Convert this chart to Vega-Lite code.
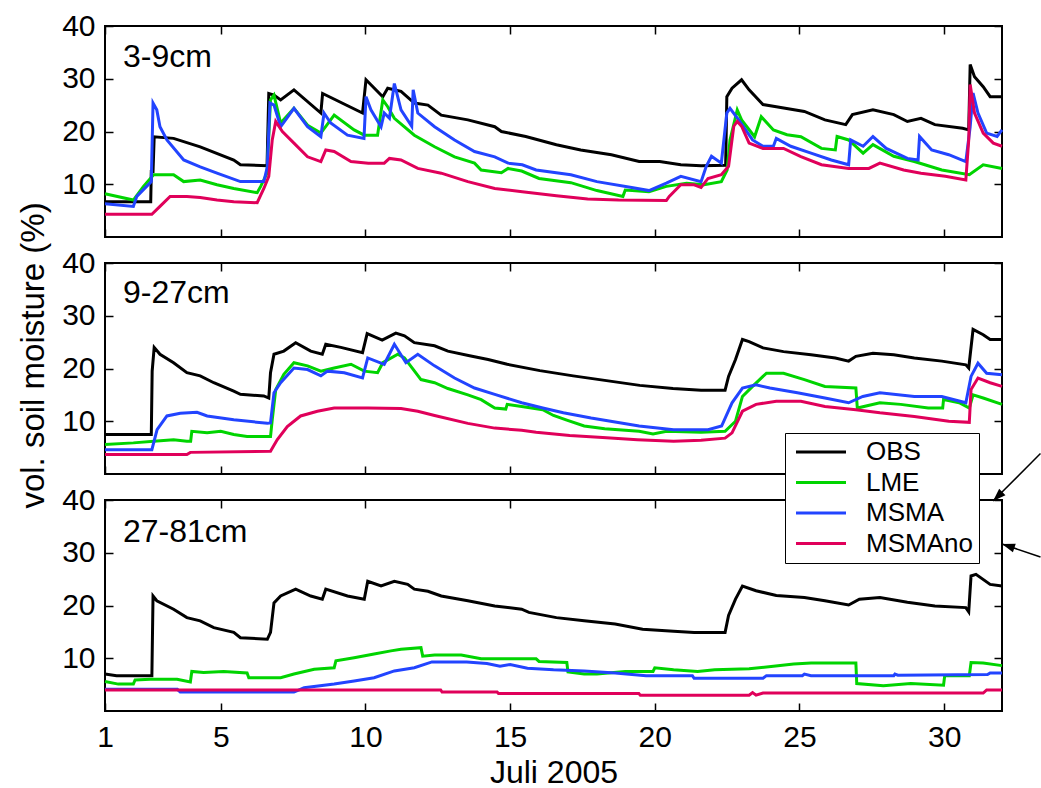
{
"$schema":"https://vega.github.io/schema/vega-lite/v6.json",
"padding":{"left":15,"top":10,"right":0,"bottom":0},
"background":"white",
"bounds":"flush",
"spacing":26,
"config":{
 "view":{"stroke":"black","strokeWidth":2},
 "font":"Liberation Sans",
 "axis":{"domain":false,"grid":false,"tickColor":"black","tickWidth":1.5,"tickSize":-8,"labelColor":"black","labelFontSize":30,"labelFont":"Liberation Sans","titleColor":"black","titleFontWeight":"normal","titleFontSize":33,"titleFont":"Liberation Sans","labelFlush":false,"labelOverlap":false}
},
"datasets":{
"p1":[
{"s":"OBS","d":1,"v":6.7},{"s":"OBS","d":2.58,"v":6.7},{"s":"OBS","d":2.6,"v":12.4},{"s":"OBS","d":2.66,"v":12.4},{"s":"OBS","d":2.7,"v":19.0},{"s":"OBS","d":3.37,"v":18.7},{"s":"OBS","d":4.29,"v":17.1},{"s":"OBS","d":5.45,"v":14.6},{"s":"OBS","d":5.68,"v":13.7},{"s":"OBS","d":6.6,"v":13.5},{"s":"OBS","d":6.66,"v":27.2},{"s":"OBS","d":6.84,"v":26.9},{"s":"OBS","d":7.07,"v":26.0},{"s":"OBS","d":7.53,"v":27.9},{"s":"OBS","d":8.46,"v":23.5},{"s":"OBS","d":8.52,"v":27.2},{"s":"OBS","d":9.9,"v":23.5},{"s":"OBS","d":10.02,"v":29.8},{"s":"OBS","d":10.6,"v":26.6},{"s":"OBS","d":10.77,"v":28.2},{"s":"OBS","d":11.23,"v":27.6},{"s":"OBS","d":11.69,"v":25.4},{"s":"OBS","d":12.16,"v":25.0},{"s":"OBS","d":12.62,"v":23.1},{"s":"OBS","d":13.54,"v":22.2},{"s":"OBS","d":14.47,"v":20.9},{"s":"OBS","d":14.7,"v":20.0},{"s":"OBS","d":15.54,"v":19.05},{"s":"OBS","d":16.6,"v":17.5},{"s":"OBS","d":17.44,"v":16.5},{"s":"OBS","d":18.5,"v":15.6},{"s":"OBS","d":19.46,"v":14.3},{"s":"OBS","d":20.17,"v":14.3},{"s":"OBS","d":20.9,"v":13.7},{"s":"OBS","d":21.6,"v":13.5},{"s":"OBS","d":22.45,"v":13.6},{"s":"OBS","d":22.49,"v":26.6},{"s":"OBS","d":22.67,"v":28.2},{"s":"OBS","d":23.0,"v":29.8},{"s":"OBS","d":23.26,"v":27.9},{"s":"OBS","d":23.74,"v":25.1},{"s":"OBS","d":24.2,"v":24.7},{"s":"OBS","d":25.17,"v":23.8},{"s":"OBS","d":25.88,"v":22.2},{"s":"OBS","d":26.6,"v":21.3},{"s":"OBS","d":26.83,"v":23.2},{"s":"OBS","d":27.54,"v":24.1},{"s":"OBS","d":28.26,"v":23.2},{"s":"OBS","d":28.73,"v":21.9},{"s":"OBS","d":29.2,"v":22.5},{"s":"OBS","d":29.68,"v":21.3},{"s":"OBS","d":30.64,"v":20.6},{"s":"OBS","d":30.85,"v":20.3},{"s":"OBS","d":30.9,"v":32.7},{"s":"OBS","d":31.05,"v":30.4},{"s":"OBS","d":31.35,"v":28.5},{"s":"OBS","d":31.59,"v":26.6},{"s":"OBS","d":32,"v":26.6},
{"s":"LME","d":1,"v":8.2},{"s":"LME","d":1.98,"v":7.0},{"s":"LME","d":2.33,"v":9.6},{"s":"LME","d":2.68,"v":11.8},{"s":"LME","d":3.37,"v":11.8},{"s":"LME","d":3.72,"v":10.5},{"s":"LME","d":4.29,"v":10.8},{"s":"LME","d":4.87,"v":9.9},{"s":"LME","d":5.45,"v":9.2},{"s":"LME","d":6.26,"v":8.4},{"s":"LME","d":6.38,"v":9.6},{"s":"LME","d":6.6,"v":12.1},{"s":"LME","d":6.72,"v":26.0},{"s":"LME","d":6.84,"v":26.9},{"s":"LME","d":7.07,"v":21.6},{"s":"LME","d":7.53,"v":24.4},{"s":"LME","d":8.0,"v":21.2},{"s":"LME","d":8.46,"v":19.7},{"s":"LME","d":8.92,"v":23.1},{"s":"LME","d":9.61,"v":20.3},{"s":"LME","d":9.96,"v":19.3},{"s":"LME","d":10.42,"v":19.3},{"s":"LME","d":10.6,"v":26.0},{"s":"LME","d":10.77,"v":24.7},{"s":"LME","d":11.0,"v":22.5},{"s":"LME","d":11.69,"v":19.3},{"s":"LME","d":12.39,"v":17.1},{"s":"LME","d":13.08,"v":15.2},{"s":"LME","d":13.77,"v":14.0},{"s":"LME","d":14.0,"v":12.7},{"s":"LME","d":14.7,"v":12.2},{"s":"LME","d":14.93,"v":13.0},{"s":"LME","d":15.4,"v":12.5},{"s":"LME","d":16.0,"v":11.1},{"s":"LME","d":17.1,"v":10.3},{"s":"LME","d":18.0,"v":8.8},{"s":"LME","d":18.9,"v":7.7},{"s":"LME","d":18.98,"v":8.9},{"s":"LME","d":19.8,"v":8.6},{"s":"LME","d":20.4,"v":9.6},{"s":"LME","d":21.1,"v":10.2},{"s":"LME","d":21.7,"v":9.9},{"s":"LME","d":22.3,"v":10.5},{"s":"LME","d":22.5,"v":12.7},{"s":"LME","d":22.6,"v":18.4},{"s":"LME","d":22.85,"v":24.1},{"s":"LME","d":23.0,"v":22.2},{"s":"LME","d":23.45,"v":19.0},{"s":"LME","d":23.68,"v":22.8},{"s":"LME","d":24.1,"v":20.3},{"s":"LME","d":24.57,"v":19.4},{"s":"LME","d":25.05,"v":19.0},{"s":"LME","d":25.76,"v":16.8},{"s":"LME","d":26.24,"v":16.5},{"s":"LME","d":26.3,"v":19.05},{"s":"LME","d":26.7,"v":18.4},{"s":"LME","d":27.2,"v":15.9},{"s":"LME","d":27.54,"v":17.5},{"s":"LME","d":28.26,"v":15.3},{"s":"LME","d":28.97,"v":14.3},{"s":"LME","d":29.92,"v":12.7},{"s":"LME","d":30.87,"v":11.8},{"s":"LME","d":31.35,"v":13.7},{"s":"LME","d":32,"v":13.0},
{"s":"MSMA","d":1,"v":6.3},{"s":"MSMA","d":1.98,"v":5.8},{"s":"MSMA","d":2.1,"v":7.7},{"s":"MSMA","d":2.6,"v":10.5},{"s":"MSMA","d":2.66,"v":25.4},{"s":"MSMA","d":2.79,"v":24.1},{"s":"MSMA","d":2.9,"v":20.9},{"s":"MSMA","d":3.14,"v":18.4},{"s":"MSMA","d":3.72,"v":14.6},{"s":"MSMA","d":4.29,"v":13.3},{"s":"MSMA","d":4.87,"v":12.1},{"s":"MSMA","d":5.68,"v":10.5},{"s":"MSMA","d":6.49,"v":10.5},{"s":"MSMA","d":6.61,"v":13.3},{"s":"MSMA","d":6.7,"v":25.4},{"s":"MSMA","d":6.84,"v":25.0},{"s":"MSMA","d":7.07,"v":20.9},{"s":"MSMA","d":7.53,"v":24.4},{"s":"MSMA","d":8.0,"v":20.9},{"s":"MSMA","d":8.46,"v":19.0},{"s":"MSMA","d":8.57,"v":23.5},{"s":"MSMA","d":8.8,"v":21.6},{"s":"MSMA","d":9.38,"v":19.3},{"s":"MSMA","d":9.95,"v":18.7},{"s":"MSMA","d":10.02,"v":26.6},{"s":"MSMA","d":10.19,"v":24.1},{"s":"MSMA","d":10.54,"v":20.9},{"s":"MSMA","d":10.65,"v":23.5},{"s":"MSMA","d":10.83,"v":22.5},{"s":"MSMA","d":11.0,"v":29.1},{"s":"MSMA","d":11.23,"v":24.1},{"s":"MSMA","d":11.6,"v":21.0},{"s":"MSMA","d":11.65,"v":27.9},{"s":"MSMA","d":11.81,"v":23.5},{"s":"MSMA","d":12.39,"v":20.9},{"s":"MSMA","d":13.08,"v":18.4},{"s":"MSMA","d":13.77,"v":16.2},{"s":"MSMA","d":14.47,"v":15.2},{"s":"MSMA","d":14.93,"v":14.0},{"s":"MSMA","d":15.42,"v":13.7},{"s":"MSMA","d":15.9,"v":12.7},{"s":"MSMA","d":17.1,"v":11.8},{"s":"MSMA","d":18.0,"v":10.5},{"s":"MSMA","d":19.2,"v":9.4},{"s":"MSMA","d":19.8,"v":8.8},{"s":"MSMA","d":20.4,"v":10.2},{"s":"MSMA","d":20.9,"v":11.5},{"s":"MSMA","d":21.6,"v":10.5},{"s":"MSMA","d":21.78,"v":13.4},{"s":"MSMA","d":21.96,"v":15.3},{"s":"MSMA","d":22.3,"v":14.0},{"s":"MSMA","d":22.49,"v":23.5},{"s":"MSMA","d":22.6,"v":24.4},{"s":"MSMA","d":22.9,"v":22.2},{"s":"MSMA","d":23.38,"v":18.4},{"s":"MSMA","d":23.74,"v":17.2},{"s":"MSMA","d":24.1,"v":17.2},{"s":"MSMA","d":24.2,"v":18.7},{"s":"MSMA","d":24.7,"v":17.2},{"s":"MSMA","d":25.4,"v":15.9},{"s":"MSMA","d":26.1,"v":14.6},{"s":"MSMA","d":26.7,"v":13.7},{"s":"MSMA","d":26.77,"v":18.4},{"s":"MSMA","d":27.2,"v":17.2},{"s":"MSMA","d":27.54,"v":19.05},{"s":"MSMA","d":28.0,"v":16.8},{"s":"MSMA","d":28.73,"v":14.9},{"s":"MSMA","d":29.1,"v":14.6},{"s":"MSMA","d":29.15,"v":19.05},{"s":"MSMA","d":29.57,"v":16.5},{"s":"MSMA","d":30.16,"v":15.6},{"s":"MSMA","d":30.75,"v":14.3},{"s":"MSMA","d":30.9,"v":20.9},{"s":"MSMA","d":31.0,"v":27.3},{"s":"MSMA","d":31.17,"v":23.5},{"s":"MSMA","d":31.47,"v":19.7},{"s":"MSMA","d":31.83,"v":19.05},{"s":"MSMA","d":32,"v":20.3},
{"s":"MSMAno","d":1,"v":4.3},{"s":"MSMAno","d":2.62,"v":4.3},{"s":"MSMAno","d":2.9,"v":5.8},{"s":"MSMAno","d":3.25,"v":7.7},{"s":"MSMAno","d":3.83,"v":7.7},{"s":"MSMAno","d":4.29,"v":7.5},{"s":"MSMAno","d":4.87,"v":7.0},{"s":"MSMAno","d":5.45,"v":6.7},{"s":"MSMAno","d":6.26,"v":6.5},{"s":"MSMAno","d":6.49,"v":9.2},{"s":"MSMAno","d":6.66,"v":11.5},{"s":"MSMAno","d":6.78,"v":18.4},{"s":"MSMAno","d":6.9,"v":21.9},{"s":"MSMAno","d":7.13,"v":20.0},{"s":"MSMAno","d":7.53,"v":17.8},{"s":"MSMAno","d":8.0,"v":15.2},{"s":"MSMAno","d":8.46,"v":14.3},{"s":"MSMAno","d":8.63,"v":16.5},{"s":"MSMAno","d":8.92,"v":16.2},{"s":"MSMAno","d":9.5,"v":14.3},{"s":"MSMAno","d":10.1,"v":14.0},{"s":"MSMAno","d":10.65,"v":14.0},{"s":"MSMAno","d":10.83,"v":14.9},{"s":"MSMAno","d":11.23,"v":14.6},{"s":"MSMAno","d":11.81,"v":13.0},{"s":"MSMAno","d":12.62,"v":12.1},{"s":"MSMAno","d":13.54,"v":10.5},{"s":"MSMAno","d":14.47,"v":9.2},{"s":"MSMAno","d":15.42,"v":8.6},{"s":"MSMAno","d":16.6,"v":7.8},{"s":"MSMAno","d":17.68,"v":7.2},{"s":"MSMAno","d":18.75,"v":7.0},{"s":"MSMAno","d":20.4,"v":6.9},{"s":"MSMAno","d":20.5,"v":7.7},{"s":"MSMAno","d":20.9,"v":9.9},{"s":"MSMAno","d":21.36,"v":9.9},{"s":"MSMAno","d":21.6,"v":9.4},{"s":"MSMAno","d":21.84,"v":11.1},{"s":"MSMAno","d":22.3,"v":11.8},{"s":"MSMAno","d":22.55,"v":13.4},{"s":"MSMAno","d":22.73,"v":21.0},{"s":"MSMAno","d":22.85,"v":21.9},{"s":"MSMAno","d":23.0,"v":21.0},{"s":"MSMAno","d":23.26,"v":17.8},{"s":"MSMAno","d":23.74,"v":16.8},{"s":"MSMAno","d":24.45,"v":16.8},{"s":"MSMAno","d":25.05,"v":15.25},{"s":"MSMAno","d":25.76,"v":13.7},{"s":"MSMAno","d":26.7,"v":13.0},{"s":"MSMAno","d":27.4,"v":13.0},{"s":"MSMAno","d":27.78,"v":14.0},{"s":"MSMAno","d":28.6,"v":12.7},{"s":"MSMAno","d":29.2,"v":12.1},{"s":"MSMAno","d":30.04,"v":11.5},{"s":"MSMAno","d":30.75,"v":10.8},{"s":"MSMAno","d":30.85,"v":18.4},{"s":"MSMAno","d":30.9,"v":28.9},{"s":"MSMAno","d":31.05,"v":23.5},{"s":"MSMAno","d":31.35,"v":19.7},{"s":"MSMAno","d":31.7,"v":17.8},{"s":"MSMAno","d":32,"v":17.2}
],
"p2":[
{"s":"OBS","d":1,"v":7.5},{"s":"OBS","d":2.6,"v":7.5},{"s":"OBS","d":2.63,"v":19.5},{"s":"OBS","d":2.7,"v":24.0},{"s":"OBS","d":2.9,"v":22.7},{"s":"OBS","d":3.37,"v":21.1},{"s":"OBS","d":3.83,"v":19.2},{"s":"OBS","d":4.29,"v":18.6},{"s":"OBS","d":4.76,"v":17.3},{"s":"OBS","d":5.45,"v":15.7},{"s":"OBS","d":5.68,"v":15.1},{"s":"OBS","d":6.49,"v":14.8},{"s":"OBS","d":6.66,"v":14.4},{"s":"OBS","d":6.72,"v":19.2},{"s":"OBS","d":6.84,"v":22.7},{"s":"OBS","d":7.18,"v":23.3},{"s":"OBS","d":7.59,"v":24.9},{"s":"OBS","d":8.11,"v":23.3},{"s":"OBS","d":8.51,"v":22.7},{"s":"OBS","d":8.63,"v":24.6},{"s":"OBS","d":9.15,"v":24.0},{"s":"OBS","d":9.9,"v":23.0},{"s":"OBS","d":10.06,"v":26.6},{"s":"OBS","d":10.58,"v":25.4},{"s":"OBS","d":11.05,"v":26.7},{"s":"OBS","d":11.35,"v":26.2},{"s":"OBS","d":11.69,"v":24.9},{"s":"OBS","d":12.39,"v":24.3},{"s":"OBS","d":12.85,"v":23.3},{"s":"OBS","d":13.6,"v":22.4},{"s":"OBS","d":14.24,"v":21.7},{"s":"OBS","d":14.9,"v":20.8},{"s":"OBS","d":16.03,"v":19.6},{"s":"OBS","d":17.18,"v":18.6},{"s":"OBS","d":18.33,"v":17.7},{"s":"OBS","d":19.48,"v":16.8},{"s":"OBS","d":20.63,"v":16.2},{"s":"OBS","d":21.6,"v":15.9},{"s":"OBS","d":22.43,"v":15.9},{"s":"OBS","d":22.55,"v":18.5},{"s":"OBS","d":22.79,"v":21.7},{"s":"OBS","d":23.03,"v":25.5},{"s":"OBS","d":23.26,"v":25.1},{"s":"OBS","d":23.74,"v":23.9},{"s":"OBS","d":24.45,"v":23.2},{"s":"OBS","d":25.4,"v":22.6},{"s":"OBS","d":26.24,"v":22.0},{"s":"OBS","d":26.7,"v":21.4},{"s":"OBS","d":26.95,"v":22.3},{"s":"OBS","d":27.54,"v":22.9},{"s":"OBS","d":28.26,"v":22.6},{"s":"OBS","d":28.97,"v":22.0},{"s":"OBS","d":29.92,"v":21.4},{"s":"OBS","d":30.75,"v":20.7},{"s":"OBS","d":30.85,"v":20.1},{"s":"OBS","d":31.0,"v":27.4},{"s":"OBS","d":31.35,"v":26.4},{"s":"OBS","d":31.59,"v":25.5},{"s":"OBS","d":32,"v":25.5},
{"s":"LME","d":1,"v":5.6},{"s":"LME","d":1.98,"v":5.9},{"s":"LME","d":2.68,"v":6.2},{"s":"LME","d":3.37,"v":6.5},{"s":"LME","d":3.83,"v":6.2},{"s":"LME","d":3.96,"v":6.2},{"s":"LME","d":4.0,"v":8.1},{"s":"LME","d":4.53,"v":7.8},{"s":"LME","d":5.0,"v":8.1},{"s":"LME","d":5.45,"v":7.5},{"s":"LME","d":5.91,"v":7.1},{"s":"LME","d":6.72,"v":7.1},{"s":"LME","d":6.78,"v":10.3},{"s":"LME","d":6.9,"v":16.0},{"s":"LME","d":7.18,"v":18.9},{"s":"LME","d":7.53,"v":21.1},{"s":"LME","d":8.0,"v":20.5},{"s":"LME","d":8.46,"v":19.5},{"s":"LME","d":8.92,"v":20.1},{"s":"LME","d":9.5,"v":20.8},{"s":"LME","d":9.96,"v":19.5},{"s":"LME","d":10.42,"v":19.2},{"s":"LME","d":10.6,"v":21.1},{"s":"LME","d":11.12,"v":22.7},{"s":"LME","d":11.35,"v":22.0},{"s":"LME","d":11.92,"v":17.9},{"s":"LME","d":12.39,"v":17.3},{"s":"LME","d":12.85,"v":16.2},{"s":"LME","d":13.54,"v":15.0},{"s":"LME","d":14.0,"v":14.1},{"s":"LME","d":14.47,"v":12.5},{"s":"LME","d":14.85,"v":12.3},{"s":"LME","d":14.9,"v":13.2},{"s":"LME","d":15.4,"v":12.8},{"s":"LME","d":16.13,"v":12.2},{"s":"LME","d":16.5,"v":11.1},{"s":"LME","d":16.96,"v":10.2},{"s":"LME","d":17.56,"v":9.1},{"s":"LME","d":18.27,"v":8.6},{"s":"LME","d":19.46,"v":8.1},{"s":"LME","d":19.94,"v":7.6},{"s":"LME","d":20.41,"v":8.1},{"s":"LME","d":21.6,"v":7.9},{"s":"LME","d":22.43,"v":8.1},{"s":"LME","d":22.79,"v":10.0},{"s":"LME","d":23.03,"v":14.7},{"s":"LME","d":23.38,"v":16.6},{"s":"LME","d":23.74,"v":18.5},{"s":"LME","d":23.86,"v":19.1},{"s":"LME","d":24.45,"v":19.1},{"s":"LME","d":25.17,"v":17.9},{"s":"LME","d":25.88,"v":16.6},{"s":"LME","d":26.95,"v":16.3},{"s":"LME","d":27.0,"v":12.5},{"s":"LME","d":27.78,"v":13.5},{"s":"LME","d":28.5,"v":13.2},{"s":"LME","d":29.45,"v":12.5},{"s":"LME","d":29.95,"v":12.5},{"s":"LME","d":29.98,"v":14.1},{"s":"LME","d":30.52,"v":13.5},{"s":"LME","d":30.87,"v":12.5},{"s":"LME","d":31.0,"v":15.0},{"s":"LME","d":31.35,"v":14.4},{"s":"LME","d":32,"v":13.2},
{"s":"MSMA","d":1,"v":4.6},{"s":"MSMA","d":2.62,"v":4.6},{"s":"MSMA","d":2.8,"v":8.4},{"s":"MSMA","d":3.14,"v":11.0},{"s":"MSMA","d":3.6,"v":11.5},{"s":"MSMA","d":4.18,"v":11.7},{"s":"MSMA","d":4.53,"v":11.0},{"s":"MSMA","d":5.45,"v":10.3},{"s":"MSMA","d":6.61,"v":9.6},{"s":"MSMA","d":6.72,"v":9.7},{"s":"MSMA","d":6.84,"v":15.4},{"s":"MSMA","d":7.07,"v":17.3},{"s":"MSMA","d":7.53,"v":20.1},{"s":"MSMA","d":8.0,"v":19.8},{"s":"MSMA","d":8.46,"v":18.6},{"s":"MSMA","d":8.69,"v":19.5},{"s":"MSMA","d":9.27,"v":19.2},{"s":"MSMA","d":9.9,"v":18.2},{"s":"MSMA","d":10.08,"v":22.0},{"s":"MSMA","d":10.65,"v":20.8},{"s":"MSMA","d":11.0,"v":24.6},{"s":"MSMA","d":11.4,"v":21.1},{"s":"MSMA","d":11.81,"v":22.7},{"s":"MSMA","d":12.39,"v":20.5},{"s":"MSMA","d":13.08,"v":18.2},{"s":"MSMA","d":13.77,"v":16.3},{"s":"MSMA","d":14.47,"v":15.1},{"s":"MSMA","d":15.4,"v":13.5},{"s":"MSMA","d":16.13,"v":12.5},{"s":"MSMA","d":16.84,"v":11.6},{"s":"MSMA","d":17.8,"v":10.6},{"s":"MSMA","d":19.46,"v":9.1},{"s":"MSMA","d":20.65,"v":8.4},{"s":"MSMA","d":21.84,"v":8.4},{"s":"MSMA","d":22.31,"v":9.1},{"s":"MSMA","d":22.67,"v":13.5},{"s":"MSMA","d":23.03,"v":16.3},{"s":"MSMA","d":23.5,"v":16.9},{"s":"MSMA","d":23.98,"v":16.3},{"s":"MSMA","d":24.93,"v":15.4},{"s":"MSMA","d":25.88,"v":14.4},{"s":"MSMA","d":26.7,"v":13.5},{"s":"MSMA","d":27.19,"v":14.7},{"s":"MSMA","d":27.78,"v":15.4},{"s":"MSMA","d":28.97,"v":14.7},{"s":"MSMA","d":29.92,"v":14.7},{"s":"MSMA","d":30.75,"v":13.5},{"s":"MSMA","d":30.93,"v":18.5},{"s":"MSMA","d":31.17,"v":21.0},{"s":"MSMA","d":31.47,"v":19.1},{"s":"MSMA","d":32,"v":18.8},
{"s":"MSMAno","d":1,"v":3.7},{"s":"MSMAno","d":3.83,"v":3.7},{"s":"MSMAno","d":3.95,"v":4.1},{"s":"MSMAno","d":6.72,"v":4.3},{"s":"MSMAno","d":6.95,"v":6.5},{"s":"MSMAno","d":7.3,"v":9.0},{"s":"MSMAno","d":7.76,"v":11.0},{"s":"MSMAno","d":8.34,"v":11.9},{"s":"MSMAno","d":8.92,"v":12.5},{"s":"MSMAno","d":10.08,"v":12.5},{"s":"MSMAno","d":11.23,"v":12.4},{"s":"MSMAno","d":11.81,"v":11.9},{"s":"MSMAno","d":12.39,"v":11.1},{"s":"MSMAno","d":13.54,"v":9.6},{"s":"MSMAno","d":14.47,"v":8.7},{"s":"MSMAno","d":15.4,"v":8.3},{"s":"MSMAno","d":15.9,"v":7.9},{"s":"MSMAno","d":17.06,"v":7.3},{"s":"MSMAno","d":18.2,"v":6.9},{"s":"MSMAno","d":19.4,"v":6.5},{"s":"MSMAno","d":20.65,"v":6.2},{"s":"MSMAno","d":21.6,"v":6.4},{"s":"MSMAno","d":22.43,"v":6.8},{"s":"MSMAno","d":22.67,"v":7.8},{"s":"MSMAno","d":23.03,"v":11.9},{"s":"MSMAno","d":23.5,"v":13.2},{"s":"MSMAno","d":24.2,"v":13.8},{"s":"MSMAno","d":25.05,"v":13.8},{"s":"MSMAno","d":25.88,"v":12.8},{"s":"MSMAno","d":26.95,"v":12.2},{"s":"MSMAno","d":27.78,"v":11.6},{"s":"MSMAno","d":28.97,"v":10.9},{"s":"MSMAno","d":30.16,"v":10.0},{"s":"MSMAno","d":30.87,"v":9.8},{"s":"MSMAno","d":30.93,"v":16.0},{"s":"MSMAno","d":31.17,"v":18.2},{"s":"MSMAno","d":31.59,"v":17.3},{"s":"MSMAno","d":32,"v":16.6}
],
"p3":[
{"s":"OBS","d":1,"v":7.0},{"s":"OBS","d":1.4,"v":6.7},{"s":"OBS","d":2.62,"v":6.7},{"s":"OBS","d":2.66,"v":21.8},{"s":"OBS","d":2.79,"v":20.9},{"s":"OBS","d":3.37,"v":19.3},{"s":"OBS","d":3.83,"v":17.7},{"s":"OBS","d":4.29,"v":17.1},{"s":"OBS","d":4.76,"v":15.8},{"s":"OBS","d":5.45,"v":14.9},{"s":"OBS","d":5.68,"v":13.9},{"s":"OBS","d":6.61,"v":13.6},{"s":"OBS","d":6.72,"v":14.9},{"s":"OBS","d":6.84,"v":20.5},{"s":"OBS","d":7.07,"v":21.8},{"s":"OBS","d":7.59,"v":23.1},{"s":"OBS","d":8.11,"v":21.8},{"s":"OBS","d":8.51,"v":21.2},{"s":"OBS","d":8.63,"v":23.1},{"s":"OBS","d":9.38,"v":21.8},{"s":"OBS","d":9.96,"v":21.2},{"s":"OBS","d":10.08,"v":24.6},{"s":"OBS","d":10.54,"v":23.7},{"s":"OBS","d":11.0,"v":24.6},{"s":"OBS","d":11.46,"v":24.0},{"s":"OBS","d":11.69,"v":23.1},{"s":"OBS","d":12.16,"v":22.7},{"s":"OBS","d":12.62,"v":21.8},{"s":"OBS","d":13.54,"v":20.9},{"s":"OBS","d":14.47,"v":19.9},{"s":"OBS","d":15.4,"v":19.3},{"s":"OBS","d":15.65,"v":18.7},{"s":"OBS","d":16.6,"v":17.7},{"s":"OBS","d":17.56,"v":17.1},{"s":"OBS","d":18.63,"v":16.5},{"s":"OBS","d":19.58,"v":15.5},{"s":"OBS","d":20.65,"v":15.1},{"s":"OBS","d":21.36,"v":14.9},{"s":"OBS","d":22.43,"v":14.9},{"s":"OBS","d":22.55,"v":18.1},{"s":"OBS","d":22.79,"v":21.2},{"s":"OBS","d":23.03,"v":23.7},{"s":"OBS","d":23.5,"v":22.8},{"s":"OBS","d":24.2,"v":21.9},{"s":"OBS","d":25.17,"v":21.5},{"s":"OBS","d":25.88,"v":20.9},{"s":"OBS","d":26.7,"v":20.1},{"s":"OBS","d":27.07,"v":21.2},{"s":"OBS","d":27.78,"v":21.5},{"s":"OBS","d":28.73,"v":20.6},{"s":"OBS","d":29.68,"v":19.9},{"s":"OBS","d":30.75,"v":19.6},{"s":"OBS","d":30.85,"v":18.8},{"s":"OBS","d":30.93,"v":25.6},{"s":"OBS","d":31.1,"v":25.9},{"s":"OBS","d":31.59,"v":24.0},{"s":"OBS","d":32,"v":23.7},
{"s":"LME","d":1,"v":5.6},{"s":"LME","d":1.46,"v":5.1},{"s":"LME","d":1.98,"v":5.1},{"s":"LME","d":2.04,"v":5.9},{"s":"LME","d":2.56,"v":6.0},{"s":"LME","d":3.49,"v":6.0},{"s":"LME","d":3.95,"v":5.5},{"s":"LME","d":4.0,"v":7.5},{"s":"LME","d":4.41,"v":7.3},{"s":"LME","d":5.1,"v":7.5},{"s":"LME","d":5.91,"v":7.2},{"s":"LME","d":5.97,"v":6.3},{"s":"LME","d":7.07,"v":6.3},{"s":"LME","d":7.53,"v":7.0},{"s":"LME","d":8.23,"v":7.9},{"s":"LME","d":8.92,"v":8.2},{"s":"LME","d":8.98,"v":9.5},{"s":"LME","d":9.61,"v":10.1},{"s":"LME","d":10.3,"v":10.8},{"s":"LME","d":10.88,"v":11.4},{"s":"LME","d":11.23,"v":11.7},{"s":"LME","d":11.92,"v":12.0},{"s":"LME","d":11.98,"v":10.4},{"s":"LME","d":12.39,"v":10.6},{"s":"LME","d":13.31,"v":10.6},{"s":"LME","d":14.0,"v":9.9},{"s":"LME","d":15.9,"v":9.9},{"s":"LME","d":16.0,"v":9.4},{"s":"LME","d":16.96,"v":9.2},{"s":"LME","d":17.0,"v":7.4},{"s":"LME","d":17.56,"v":7.0},{"s":"LME","d":18.0,"v":7.0},{"s":"LME","d":18.98,"v":7.5},{"s":"LME","d":19.94,"v":7.5},{"s":"LME","d":20.0,"v":8.2},{"s":"LME","d":20.65,"v":7.8},{"s":"LME","d":21.48,"v":7.5},{"s":"LME","d":22.07,"v":7.8},{"s":"LME","d":23.26,"v":8.0},{"s":"LME","d":24.1,"v":8.5},{"s":"LME","d":24.8,"v":8.9},{"s":"LME","d":25.4,"v":9.1},{"s":"LME","d":26.95,"v":9.1},{"s":"LME","d":26.98,"v":5.2},{"s":"LME","d":27.9,"v":4.8},{"s":"LME","d":28.85,"v":5.2},{"s":"LME","d":29.98,"v":4.9},{"s":"LME","d":30.02,"v":6.7},{"s":"LME","d":30.87,"v":6.7},{"s":"LME","d":30.93,"v":9.2},{"s":"LME","d":31.35,"v":9.1},{"s":"LME","d":32,"v":8.6},
{"s":"MSMA","d":1,"v":4.1},{"s":"MSMA","d":3.5,"v":4.1},{"s":"MSMA","d":3.6,"v":3.6},{"s":"MSMA","d":7.53,"v":3.6},{"s":"MSMA","d":7.88,"v":4.4},{"s":"MSMA","d":8.92,"v":5.1},{"s":"MSMA","d":9.61,"v":5.7},{"s":"MSMA","d":10.3,"v":6.3},{"s":"MSMA","d":11.0,"v":7.6},{"s":"MSMA","d":11.69,"v":8.2},{"s":"MSMA","d":12.3,"v":9.3},{"s":"MSMA","d":13.5,"v":9.3},{"s":"MSMA","d":14.2,"v":9.0},{"s":"MSMA","d":14.65,"v":8.5},{"s":"MSMA","d":15.0,"v":8.8},{"s":"MSMA","d":15.6,"v":8.1},{"s":"MSMA","d":16.5,"v":7.8},{"s":"MSMA","d":17.56,"v":7.6},{"s":"MSMA","d":18.63,"v":7.2},{"s":"MSMA","d":19.7,"v":6.7},{"s":"MSMA","d":21.3,"v":6.7},{"s":"MSMA","d":21.36,"v":6.2},{"s":"MSMA","d":23.74,"v":6.2},{"s":"MSMA","d":23.86,"v":6.7},{"s":"MSMA","d":25.1,"v":6.7},{"s":"MSMA","d":25.17,"v":7.0},{"s":"MSMA","d":25.4,"v":6.7},{"s":"MSMA","d":28.26,"v":6.7},{"s":"MSMA","d":28.3,"v":7.0},{"s":"MSMA","d":28.4,"v":6.8},{"s":"MSMA","d":31.5,"v":6.9},{"s":"MSMA","d":31.59,"v":7.2},{"s":"MSMA","d":32,"v":7.2},
{"s":"MSMAno","d":1,"v":4.0},{"s":"MSMAno","d":12.6,"v":4.0},{"s":"MSMAno","d":12.65,"v":3.6},{"s":"MSMAno","d":14.55,"v":3.6},{"s":"MSMAno","d":14.6,"v":3.3},{"s":"MSMAno","d":19.45,"v":3.3},{"s":"MSMAno","d":19.5,"v":3.0},{"s":"MSMAno","d":23.26,"v":3.0},{"s":"MSMAno","d":23.38,"v":3.5},{"s":"MSMAno","d":23.5,"v":3.0},{"s":"MSMAno","d":23.74,"v":3.4},{"s":"MSMAno","d":31.35,"v":3.4},{"s":"MSMAno","d":31.47,"v":4.0},{"s":"MSMAno","d":32,"v":4.0}
]
},
"vconcat":[
{
 "width":897,"height":211,
 "layer":[
  {"data":{"name":"p1"},"mark":{"type":"line","strokeWidth":3},
   "encoding":{
    "x":{"field":"d","type":"quantitative","scale":{"domain":[1,32],"nice":false,"zero":false},"axis":{"orient":"bottom","values":[1,5,10,15,20,25,30],"labels":false,"title":null}},
    "y":{"field":"v","type":"quantitative","scale":{"domain":[0,40],"nice":false},"axis":{"orient":"left","values":[10,20,30,40],"labelPadding":18,"labelBaseline":"middle","title":null}},
    "color":{"field":"s","type":"nominal","scale":{"domain":["OBS","LME","MSMA","MSMAno"],"range":["#000000","#00d400","#2244ff","#e0005a"]},
     "legend":{"orient":"none","legendX":680,"legendY":407,"title":null,"symbolType":"M-5,0L5,0","symbolSize":100,"symbolStrokeWidth":3,"labelFontSize":26,"labelFont":"Liberation Sans","labelColor":"black","strokeColor":"black","fillColor":"white","padding":6,"rowPadding":4.5,"symbolOffset":17,"labelOffset":32,"labelLimit":300,"labelExpr":"datum.label + '\u00a0\u00a0\u00a0\u00a0\u00a0\u00a0\u2009'"}}
   }},
  {"data":{"name":"p1"},"mark":{"type":"point","opacity":0},
   "encoding":{
    "x":{"field":"d","type":"quantitative","scale":{"domain":[1,32],"nice":false,"zero":false},"axis":{"orient":"top","values":[1,5,10,15,20,25,30],"labels":false,"title":null}},
    "y":{"field":"v","type":"quantitative","scale":{"domain":[0,40],"nice":false},"axis":{"orient":"right","values":[10,20,30,40],"labels":false,"title":null}}
   }},
  {"data":{"values":[{"lab":"3-9cm","x":1.62,"y":32.3}]},"mark":{"type":"text","align":"left","baseline":"alphabetic","fontSize":32,"font":"Liberation Sans","color":"black"},
   "encoding":{"x":{"field":"x","type":"quantitative","axis":null},"y":{"field":"y","type":"quantitative","axis":null},"text":{"field":"lab"}}}
 ],
 "resolve":{"axis":{"x":"independent","y":"independent"}}
},
{
 "width":897,"height":211,
 "layer":[
  {"data":{"name":"p2"},"mark":{"type":"line","strokeWidth":3},
   "encoding":{
    "x":{"field":"d","type":"quantitative","scale":{"domain":[1,32],"nice":false,"zero":false},"axis":{"orient":"bottom","values":[1,5,10,15,20,25,30],"labels":false,"title":null}},
    "y":{"field":"v","type":"quantitative","scale":{"domain":[0,40],"nice":false},"axis":{"orient":"left","values":[10,20,30,40],"labelPadding":18,"labelBaseline":"middle","title":"vol. soil moisture (%)","titleAngle":270,"titleX":-62,"titleY":92,"titleAlign":"center","titleBaseline":"alphabetic"}},
    "color":{"field":"s","type":"nominal","scale":{"domain":["OBS","LME","MSMA","MSMAno"],"range":["#000000","#00d400","#2244ff","#e0005a"]},
     "legend":{"orient":"none","legendX":680,"legendY":407,"title":null,"symbolType":"M-5,0L5,0","symbolSize":100,"symbolStrokeWidth":3,"labelFontSize":26,"labelFont":"Liberation Sans","labelColor":"black","strokeColor":"black","fillColor":"white","padding":6,"rowPadding":4.5,"symbolOffset":17,"labelOffset":32,"labelLimit":300,"labelExpr":"datum.label + '\u00a0\u00a0\u00a0\u00a0\u00a0\u00a0\u2009'"}}
   }},
  {"data":{"name":"p2"},"mark":{"type":"point","opacity":0},
   "encoding":{
    "x":{"field":"d","type":"quantitative","scale":{"domain":[1,32],"nice":false,"zero":false},"axis":{"orient":"top","values":[1,5,10,15,20,25,30],"labels":false,"title":null}},
    "y":{"field":"v","type":"quantitative","scale":{"domain":[0,40],"nice":false},"axis":{"orient":"right","values":[10,20,30,40],"labels":false,"title":null}}
   }},
  {"data":{"values":[{"lab":"9-27cm","x":1.62,"y":32.4}]},"mark":{"type":"text","align":"left","baseline":"alphabetic","fontSize":32,"font":"Liberation Sans","color":"black"},
   "encoding":{"x":{"field":"x","type":"quantitative","axis":null},"y":{"field":"y","type":"quantitative","axis":null},"text":{"field":"lab"}}}
 ],
 "resolve":{"axis":{"x":"independent","y":"independent"}}
},
{
 "width":897,"height":211,
 "layer":[
  {"data":{"name":"p3"},"mark":{"type":"line","strokeWidth":3},
   "encoding":{
    "x":{"field":"d","type":"quantitative","scale":{"domain":[1,32],"nice":false,"zero":false},"axis":{"orient":"bottom","values":[1,5,10,15,20,25,30],"labelPadding":43,"labelBaseline":"alphabetic","title":"Juli 2005","titleY":71,"titleFontSize":32,"titleBaseline":"alphabetic"}},
    "y":{"field":"v","type":"quantitative","scale":{"domain":[0,40],"nice":false},"axis":{"orient":"left","values":[10,20,30,40],"labelPadding":18,"labelBaseline":"middle","title":null}},
    "color":{"field":"s","type":"nominal","scale":{"domain":["OBS","LME","MSMA","MSMAno"],"range":["#000000","#00d400","#2244ff","#e0005a"]},
     "legend":{"orient":"none","legendX":680,"legendY":407,"title":null,"symbolType":"M-5,0L5,0","symbolSize":100,"symbolStrokeWidth":3,"labelFontSize":26,"labelFont":"Liberation Sans","labelColor":"black","strokeColor":"black","fillColor":"white","padding":6,"rowPadding":4.5,"symbolOffset":17,"labelOffset":32,"labelLimit":300,"labelExpr":"datum.label + '\u00a0\u00a0\u00a0\u00a0\u00a0\u00a0\u2009'"}}
   }},
  {"data":{"name":"p3"},"mark":{"type":"point","opacity":0},
   "encoding":{
    "x":{"field":"d","type":"quantitative","scale":{"domain":[1,32],"nice":false,"zero":false},"axis":{"orient":"top","values":[1,5,10,15,20,25,30],"labels":false,"title":null}},
    "y":{"field":"v","type":"quantitative","scale":{"domain":[0,40],"nice":false},"axis":{"orient":"right","values":[10,20,30,40],"labels":false,"title":null}}
   }},
  {"data":{"values":[{"lab":"27-81cm","x":1.62,"y":32.1}]},"mark":{"type":"text","align":"left","baseline":"alphabetic","fontSize":32,"font":"Liberation Sans","color":"black"},
   "encoding":{"x":{"field":"x","type":"quantitative","axis":null},"y":{"field":"y","type":"quantitative","axis":null},"text":{"field":"lab"}}},
  {"data":{"values":[{"x":33.33,"y":48.8,"x2":31.69,"y2":39.8,"a":225.6},{"x":33.33,"y":29.2,"x2":32.0,"y2":31.66,"a":288.4}]},
   "layer":[
    {"mark":{"type":"rule","color":"black","strokeWidth":1.5},
     "encoding":{"x":{"field":"x","type":"quantitative","axis":null},"y":{"field":"y","type":"quantitative","axis":null},"x2":{"field":"x2"},"y2":{"field":"y2"}}},
    {"mark":{"type":"point","shape":"M0,0L-0.9,2.6L0.9,2.6Z","filled":true,"color":"black","size":100,"opacity":1},
     "encoding":{"x":{"field":"x2","type":"quantitative","axis":null},"y":{"field":"y2","type":"quantitative","axis":null},"angle":{"field":"a","type":"quantitative","scale":null}}}
   ]}
 ],
 "resolve":{"axis":{"x":"independent","y":"independent"}}
}
]
}
